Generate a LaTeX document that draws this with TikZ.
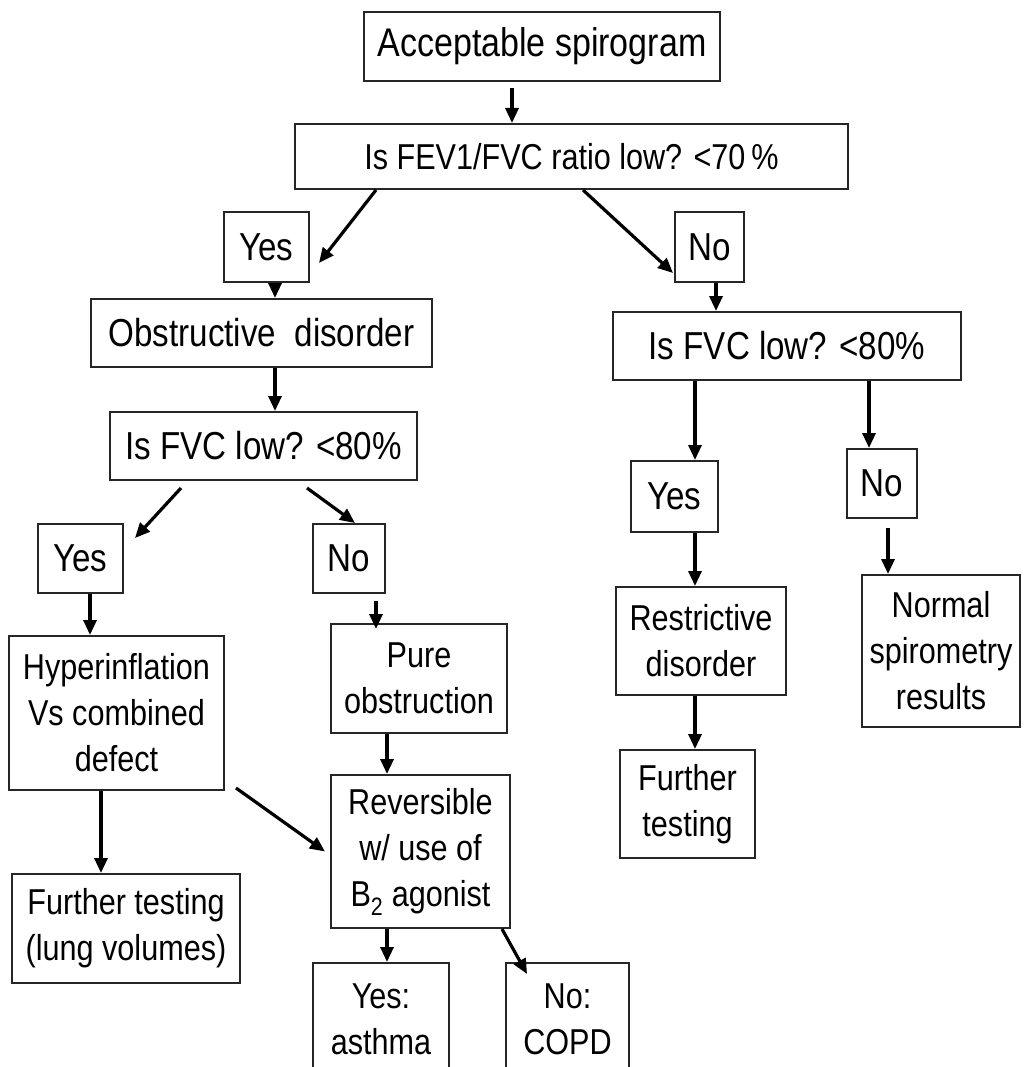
\documentclass[tikz,border=0pt]{standalone}
\usepackage{fontspec}
\setmainfont{Liberation Sans}[FakeStretch=0.85]
\usetikzlibrary{arrows.meta}
\begin{document}
\begin{tikzpicture}[x=1pt,y=-1pt,
  box/.style={draw=black!85, line width=2pt, inner sep=0pt, align=center,
    font=\fontsize{36}{46}\selectfont},
  big/.style={font=\fontsize{39}{46}\selectfont},
  arr/.style={line width=3.2pt, draw=black, -{Triangle[length=15pt,width=13pt]}}]
\clip (0,0) rectangle (1023,1067);
\fill[white] (0,0) rectangle (1023,1067);
% nodes
\node[box, font=\fontsize{40}{46}\selectfont, minimum width=356pt, minimum height=69pt] (start) at (542,46.5) {Acceptable spirogram};
\node[box, minimum width=553pt, minimum height=65pt] (fev) at (571.5,156.5) {Is FEV1/FVC ratio low? <70\,\%};
\node[box, big, minimum width=85pt, minimum height=70pt] (yes1) at (266.5,247) {Yes};
\node[box, big, minimum width=69pt, minimum height=70pt] (no1) at (709.5,247) {No};
\node[box, big, minimum width=341pt, minimum height=68pt] (obs) at (261.5,333) {Obstructive\ \ disorder};
\node[box, big, minimum width=348pt, minimum height=68pt] (fvcR) at (787,346) {Is FVC low? <80\%};
\node[box, big, minimum width=307pt, minimum height=68pt] (fvcL) at (263.5,446) {Is FVC low? <80\%};
\node[box, big, minimum width=85pt, minimum height=69pt] (yes2) at (80.5,558.5) {Yes};
\node[box, big, minimum width=72pt, minimum height=69pt] (no2) at (349,558.5) {No};
\node[box, big, minimum width=87pt, minimum height=71pt] (yesR) at (674.5,496.5) {Yes};
\node[box, big, minimum width=70pt, minimum height=69pt] (noR) at (882,483.5) {No};
\node[box, minimum width=215pt, minimum height=154pt] (hyper) at (116.5,713) {Hyperinflation\\Vs combined\\defect};
\node[box, minimum width=176pt, minimum height=109pt] (pure) at (419,678.5) {Pure\\obstruction};
\node[box, minimum width=170pt, minimum height=108pt] (restr) at (701,641) {Restrictive\\disorder};
\node[box, minimum width=158pt, minimum height=152pt] (normal) at (941,651) {Normal\\spirometry\\results};
\node[box, minimum width=228pt, minimum height=109pt] (ftL) at (126,928.5) {Further testing\\(lung volumes)};
\node[box, minimum width=179pt, minimum height=153pt] (rev) at (420.5,851.5) {Reversible\\w/ use of\\B\textsubscript{2} agonist};
\node[box, minimum width=135pt, minimum height=108pt] (ftR) at (687.5,804) {Further\\testing};
\node[box, minimum width=136pt, minimum height=112pt] (asthma) at (381,1019) {Yes:\\asthma};
\node[box, minimum width=123pt, minimum height=112pt] (copd) at (567.5,1019) {No:\\COPD};
% connectors
\draw[arr] ([xshift=-30pt,yshift=-6pt]start.south) -- ([xshift=-30pt]start.south |- fev.north);
\draw[arr] ([xshift=-195.5pt]fev.south) -- ([xshift=9pt,yshift=-16pt]yes1.east);
\draw[arr] ([xshift=11.5pt]fev.south) -- ([xshift=-1pt,yshift=-26pt]no1.west);
\draw[arr] ([xshift=8.5pt]yes1.south) -- ([xshift=8.5pt]yes1.south |- obs.north);
\draw[arr] ([xshift=6.5pt]no1.south) -- ([xshift=6.5pt]no1.south |- fvcR.north);
\draw[arr] ([xshift=13.5pt]obs.south) -- ([xshift=13.5pt]obs.south |- fvcL.north);
\draw[arr] ([xshift=-82.5pt,yshift=-7pt]fvcL.south) -- ([xshift=11pt,yshift=20.5pt]yes2.east);
\draw[arr] ([xshift=43.5pt,yshift=-7pt]fvcL.south) -- ([xshift=6pt]no2.north);
\draw[arr] ([xshift=-92pt]fvcR.south) -- ([xshift=-92pt]fvcR.south |- yesR.north);
\draw[arr] ([xshift=82pt]fvcR.south) -- ([xshift=82pt]fvcR.south |- noR.north);
\draw[arr] ([xshift=9.5pt]yes2.south) -- ([xshift=9.5pt]yes2.south |- hyper.north);
\draw[arr] ([xshift=27pt,yshift=-7pt]no2.south) -- ([xshift=27pt,yshift=-6pt]no2.south |- pure.north);
\draw[arr] ([xshift=20.5pt]yesR.south) -- ([xshift=20.5pt]yesR.south |- restr.north);
\draw[arr] ([xshift=6pt,yshift=-9pt]noR.south) -- ([xshift=6pt]noR.south |- normal.north);
\draw[arr] ([xshift=-15.5pt]hyper.south) -- ([xshift=-15.5pt]hyper.south |- ftL.north);
\draw[arr] ([xshift=11pt,yshift=3pt]hyper.south east) -- ([xshift=-5pt]rev.west);
\draw[arr] ([xshift=-32pt]pure.south) -- ([xshift=-32pt]pure.south |- rev.north);
\draw[arr] ([xshift=-6pt]restr.south) -- ([xshift=-6pt]restr.south |- ftR.north);
\draw[arr] ([xshift=-33.5pt]rev.south) -- ([xshift=-33.5pt]rev.south |- asthma.north);
\draw[arr] ([xshift=-9pt]rev.south east) -- ([xshift=22pt,yshift=-12pt]copd.north west);
\end{tikzpicture}
\end{document}
